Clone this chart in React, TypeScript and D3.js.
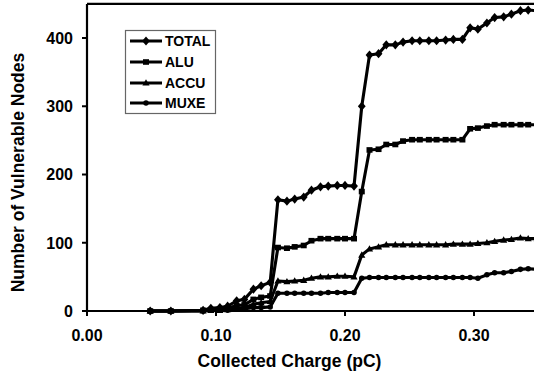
import React from "react";
import * as d3 from "d3";

const charge = [0.049, 0.065, 0.09, 0.096, 0.103, 0.109, 0.116, 0.122, 0.129, 0.135, 0.142, 0.148, 0.155, 0.161, 0.168, 0.174, 0.181, 0.187, 0.194, 0.2, 0.207, 0.213, 0.219, 0.226, 0.232, 0.239, 0.245, 0.252, 0.258, 0.265, 0.271, 0.278, 0.284, 0.291, 0.297, 0.303, 0.31, 0.316, 0.323, 0.329, 0.336, 0.342, 0.349];
const total = [0, 0, 1, 4, 5, 7, 15, 17, 32, 37, 42, 163, 161, 164, 167, 177, 182, 183, 184, 184, 183, 300, 375, 377, 390, 390, 394, 396, 396, 396, 396, 397, 398, 398, 415, 413, 422, 430, 431, 435, 440, 441, 440];
const alu = [0, 0, 1, 2, 3, 4, 8, 9, 17, 20, 22, 93, 92, 94, 96, 103, 106, 106, 106, 106, 106, 175, 236, 237, 244, 244, 249, 251, 251, 251, 251, 251, 251, 251, 267, 268, 271, 273, 273, 273, 273, 273, 273];
const accu = [0, 0, 0, 1, 1, 2, 4, 5, 10, 12, 14, 44, 43, 44, 45, 48, 50, 50, 51, 51, 50, 82, 91, 94, 97, 97, 97, 97, 97, 97, 97, 97, 98, 98, 98, 99, 100, 102, 104, 105, 107, 106, 106];
const muxe = [0, 0, 0, 1, 1, 1, 3, 3, 5, 5, 6, 26, 26, 26, 26, 26, 26, 27, 27, 27, 27, 48, 49, 49, 49, 49, 49, 49, 49, 49, 49, 49, 49, 49, 49, 48, 53, 56, 56, 58, 61, 62, 61];
const seriesNames = ["TOTAL", "ALU", "ACCU", "MUXE"];
const xTicks = [0, 0.1, 0.2, 0.3];
const yTicks = [0, 100, 200, 300, 400];

const W = 534;
const H = 377;
const FONT = "'Liberation Sans', Arial, Helvetica, sans-serif";

function markerPath(kind: string): string {
  if (kind === "TOTAL") return "M0,-4.6L3.9,0L0,4.6L-3.9,0Z";
  if (kind === "ALU") return "M-3,-2.8H3V2.8H-3Z";
  if (kind === "ACCU") return "M0,-3.7L3.6,2.6H-3.6Z";
  return d3.symbol(d3.symbolCircle, 24)() as string;
}

export default function App() {
  const x = d3.scaleLinear().domain([0, 0.35]).range([87, 538.5]);
  const y = d3.scaleLinear().domain([0, 450]).range([311, 3.9]);
  const all = [total, alu, accu, muxe];
  const line = d3
    .line<number>()
    .x((_, i) => x(charge[i]))
    .y((v) => y(v));

  const legendY = [41, 62, 83, 103];

  return (
    <svg
      width={W}
      height={H}
      viewBox={`0 0 ${W} ${H}`}
      style={{ position: "fixed", left: 0, top: 0, background: "#fff" }}
    >
      <rect x={0} y={0} width={W} height={H} fill="#fff" />
      <line x1={87} x2={W} y1={y(450)} y2={y(450)} stroke="#000" strokeWidth={2.2} />
      <line x1={87} x2={87} y1={y(450)} y2={y(0)} stroke="#000" strokeWidth={2.2} />
      <line x1={87} x2={W} y1={y(0)} y2={y(0)} stroke="#000" strokeWidth={2.2} />
      {yTicks.map((t) => (
        <g key={"y" + t}>
          <line x1={82} x2={87} y1={y(t)} y2={y(t)} stroke="#000" strokeWidth={2} />
          <text
            x={73}
            y={y(t)}
            dy="0.36em"
            textAnchor="end"
            fontFamily={FONT}
            fontWeight="bold"
            fontSize={16}
          >
            {t}
          </text>
        </g>
      ))}
      {xTicks.map((t) => (
        <g key={"x" + t}>
          <line x1={x(t)} x2={x(t)} y1={y(0)} y2={y(0) + 5} stroke="#000" strokeWidth={2} />
          <text
            x={x(t)}
            y={340.5}
            textAnchor="middle"
            fontFamily={FONT}
            fontWeight="bold"
            fontSize={16}
          >
            {t.toFixed(2)}
          </text>
        </g>
      ))}
      <text
        x={289.5}
        y={366.5}
        textAnchor="middle"
        fontFamily={FONT}
        fontWeight="bold"
        fontSize={17.5}
      >
        Collected Charge (pC)
      </text>
      <text
        transform={`translate(24,172.5) rotate(-90)`}
        textAnchor="middle"
        fontFamily={FONT}
        fontWeight="bold"
        fontSize={17.5}
      >
        Number of Vulnerable Nodes
      </text>

      {all.map((vals, si) => (
        <path
          key={"l" + si}
          d={line(vals) as string}
          fill="none"
          stroke="#000"
          strokeWidth={3.1}
          strokeLinejoin="round"
        />
      ))}
      {all.map((vals, si) => (
        <g key={"m" + si}>
          {vals.map((v, i) => (
            <path
              key={i}
              d={markerPath(seriesNames[si])}
              transform={`translate(${x(charge[i])},${y(v)})`}
              fill="#000"
            />
          ))}
        </g>
      ))}

      <rect x={125.5} y={30.5} width={90} height={83} fill="#fff" stroke="#666" strokeWidth={1.2} />
      {seriesNames.map((n, i) => (
        <g key={"lg" + n}>
          <line x1={130} x2={162} y1={legendY[i]} y2={legendY[i]} stroke="#000" strokeWidth={3} />
          <path d={markerPath(n)} transform={`translate(146,${legendY[i]})`} fill="#000" />
          <text
            x={165}
            y={legendY[i]}
            dy="0.36em"
            fontFamily={FONT}
            fontWeight="bold"
            fontSize={14}
          >
            {n}
          </text>
        </g>
      ))}
    </svg>
  );
}
